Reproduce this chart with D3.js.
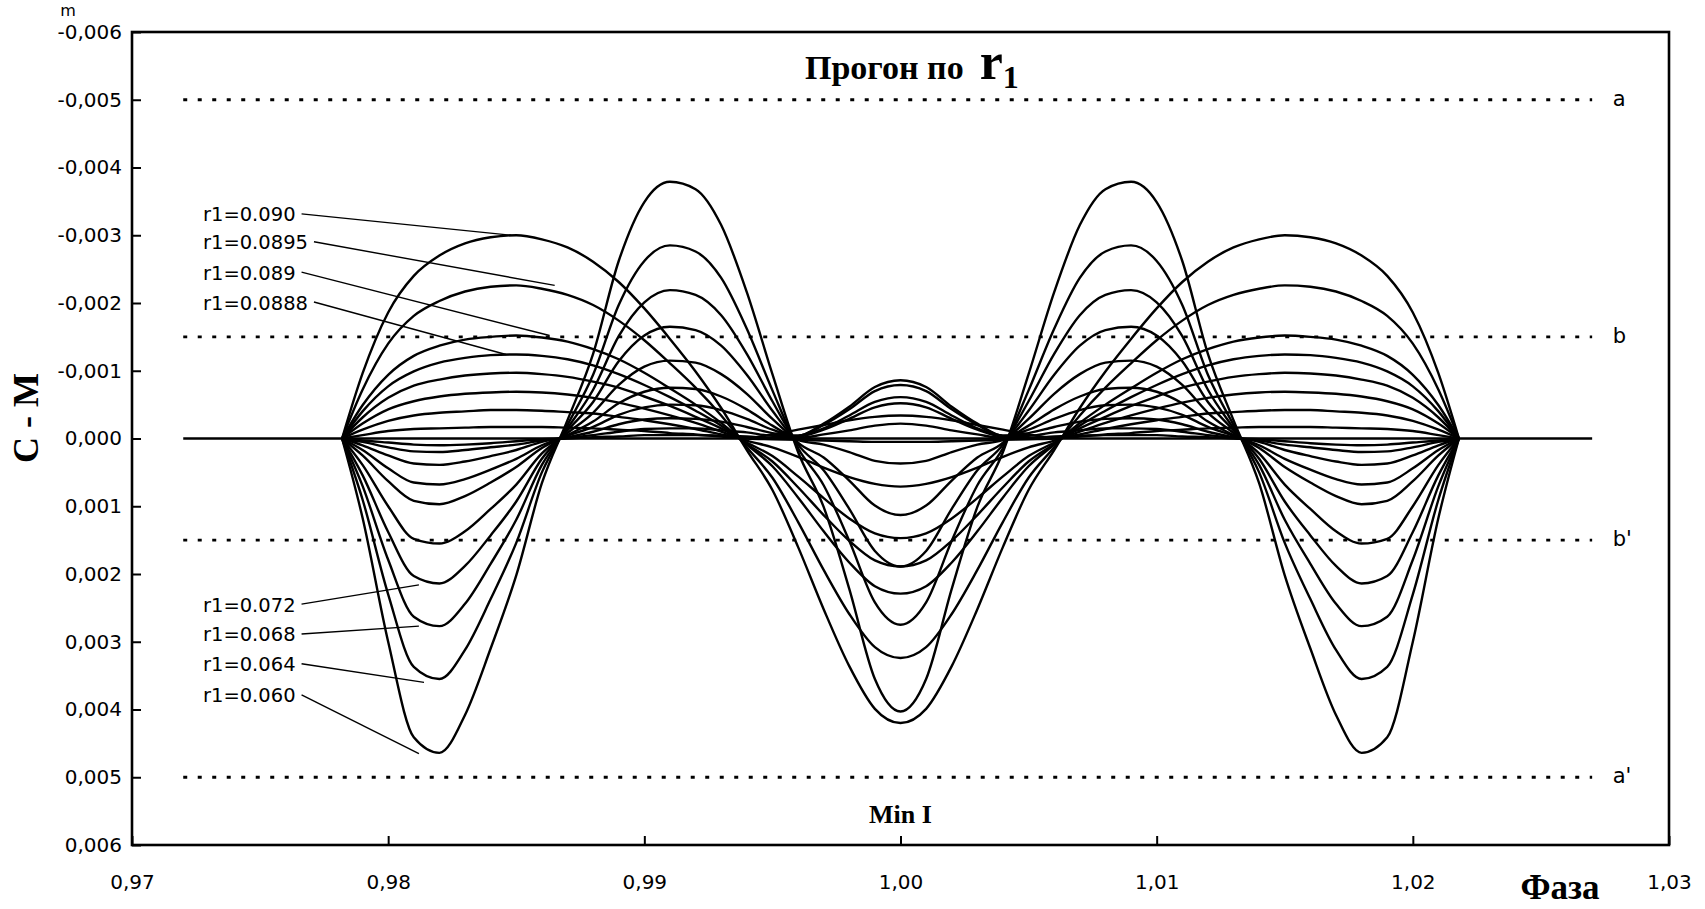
<!DOCTYPE html>
<html>
<head>
<meta charset="utf-8">
<script src="https://cdn.jsdelivr.net/npm/d3@7"></script>
<style>
  body { margin: 0; background: #fff; }
  text { fill: #000; }
</style>
</head>
<body>
<script>
var svgWidth = 1705;
var svgHeight = 909;

var margin = {
  top: 32,
  right: 36,
  bottom: 64,
  left: 132
};

var width = svgWidth - margin.left - margin.right;
var height = svgHeight - margin.top - margin.bottom;

// phase grid of the left half of the minimum (curves are symmetric about 1.000)
var phaseHalf = [0.9782, 0.979, 0.980, 0.981, 0.982, 0.983, 0.984, 0.985, 0.986, 0.987, 0.988, 0.989,
                 0.990, 0.991, 0.992, 0.993, 0.994, 0.995, 0.996, 0.997, 0.998, 0.999, 1.000];

// C - M values, in units of 0.001 m
var r1_0900 = [0, -0.96, -1.86, -2.40, -2.70, -2.88, -2.97, -3.00, -2.94, -2.82, -2.61, -2.31, -1.92, -1.47, -0.99, -0.45, 0.17, 0.76, 1.60, 2.52, 3.36, 3.99, 4.20];
var r1_0895 = [0, -0.72, -1.40, -1.81, -2.03, -2.17, -2.24, -2.26, -2.21, -2.12, -1.97, -1.74, -1.45, -1.11, -0.75, -0.34, 0.13, 0.58, 1.23, 1.94, 2.59, 3.08, 3.24];
var r1_0890 = [0, -0.49, -0.94, -1.22, -1.37, -1.46, -1.50, -1.52, -1.49, -1.43, -1.32, -1.17, -0.97, -0.74, -0.50, -0.23, 0.09, 0.41, 0.87, 1.37, 1.83, 2.18, 2.29];
var r1_0888 = [0, -0.40, -0.77, -0.99, -1.12, -1.19, -1.23, -1.24, -1.22, -1.17, -1.08, -0.95, -0.79, -0.61, -0.41, -0.19, 0.08, 0.34, 0.72, 1.13, 1.51, 1.80, 1.89];
var r1_0886 = [0, -0.31, -0.60, -0.78, -0.87, -0.93, -0.96, -0.97, -0.95, -0.91, -0.84, -0.75, -0.62, -0.48, -0.32, -0.15, 0.06, 0.26, 0.56, 0.88, 1.18, 1.40, 1.47];
var r1_0884 = [0, -0.22, -0.43, -0.55, -0.62, -0.66, -0.68, -0.69, -0.68, -0.65, -0.60, -0.53, -0.44, -0.34, -0.23, -0.10, 0.03, 0.13, 0.27, 0.43, 0.57, 0.67, 0.71];
var r1_0882 = [0, -0.13, -0.26, -0.34, -0.38, -0.40, -0.42, -0.42, -0.41, -0.39, -0.37, -0.32, -0.27, -0.21, -0.14, -0.06, 0.00, 0.01, 0.02, 0.03, 0.04, 0.05, 0.05];
var r1_0880 = [0, -0.05, -0.11, -0.14, -0.15, -0.16, -0.17, -0.17, -0.17, -0.16, -0.15, -0.13, -0.11, -0.08, -0.06, -0.03, -0.01, -0.06, -0.13, -0.20, -0.27, -0.32, -0.34];
var r1_0870 = [0, 0.03, 0.06, 0.09, 0.10, 0.09, 0.07, 0.04, 0.01, 0.00, -0.02, -0.03, -0.05, -0.05, -0.05, -0.04, -0.03, -0.01, -0.03, -0.15, -0.34, -0.54, -0.61];
var r1_0860 = [0, 0.05, 0.13, 0.19, 0.20, 0.17, 0.13, 0.09, 0.03, -0.01, -0.05, -0.10, -0.14, -0.15, -0.15, -0.12, -0.09, -0.04, -0.04, -0.22, -0.47, -0.76, -0.86];
var r1_0840 = [0, 0.10, 0.25, 0.37, 0.39, 0.34, 0.26, 0.17, 0.05, -0.02, -0.10, -0.21, -0.28, -0.30, -0.29, -0.25, -0.17, -0.08, -0.04, -0.20, -0.43, -0.70, -0.79];
var r1_0820 = [0, 0.17, 0.44, 0.65, 0.68, 0.60, 0.46, 0.30, 0.10, -0.04, -0.17, -0.35, -0.46, -0.50, -0.49, -0.42, -0.29, -0.13, -0.03, -0.13, -0.29, -0.46, -0.52];
var r1_0800 = [0, 0.25, 0.63, 0.92, 0.97, 0.85, 0.65, 0.42, 0.14, -0.05, -0.25, -0.52, -0.69, -0.75, -0.73, -0.62, -0.43, -0.19, -0.01, -0.06, -0.12, -0.19, -0.22];
var r1_0760 = [0, 0.39, 1.00, 1.48, 1.55, 1.37, 1.04, 0.68, 0.22, -0.08, -0.38, -0.79, -1.06, -1.15, -1.12, -0.95, -0.66, -0.29, 0.02, 0.09, 0.20, 0.33, 0.37];
var r1_0720 = [0, 0.54, 1.38, 2.03, 2.14, 1.88, 1.43, 0.93, 0.30, -0.12, -0.54, -1.14, -1.52, -1.65, -1.60, -1.37, -0.94, -0.41, 0.06, 0.28, 0.62, 0.99, 1.13];
var r1_0680 = [0, 0.70, 1.79, 2.63, 2.77, 2.44, 1.85, 1.20, 0.39, -0.15, -0.72, -1.51, -2.01, -2.19, -2.12, -1.82, -1.25, -0.55, 0.09, 0.47, 1.04, 1.66, 1.89];
var r1_0640 = [0, 0.90, 2.30, 3.37, 3.55, 3.12, 2.37, 1.54, 0.50, -0.20, -0.94, -1.97, -2.62, -2.85, -2.76, -2.37, -1.62, -0.71, 0.14, 0.69, 1.51, 2.42, 2.75];
var r1_0600 = [0, 1.17, 3.00, 4.41, 4.64, 4.08, 3.10, 2.02, 0.66, -0.27, -1.25, -2.62, -3.49, -3.79, -3.68, -3.15, -2.16, -0.95, 0.20, 1.01, 2.22, 3.55, 4.03];

var curveList = [r1_0900, r1_0895, r1_0890, r1_0888, r1_0886, r1_0884, r1_0882, r1_0880, r1_0870,
                 r1_0860, r1_0840, r1_0820, r1_0800, r1_0760, r1_0720, r1_0680, r1_0640, r1_0600];

// reference level (zero residual) drawn over the whole run of phases
var baselinePhase = [0.972, 1.027];
var baselineValue = [0, 0];

// limit lines
var levelValue = [-5, -1.5, 1.5, 5];
var levelName = ["a", "b", "b'", "a'"];

// labelled curves: text, level of the text, tip of the leader on the curve
var upperLabel = ["r1=0.090", "r1=0.0895", "r1=0.089", "r1=0.0888"];
var upperTextY = [-3.30, -2.89, -2.44, -2.00];
var upperTip = [[0.9848, -3.00], [0.9865, -2.26], [0.9863, -1.52], [0.9846, -1.24]];
var lowerLabel = ["r1=0.072", "r1=0.068", "r1=0.064", "r1=0.060"];
var lowerTextY = [2.46, 2.90, 3.34, 3.80];
var lowerTip = [[0.9812, 2.16], [0.9812, 2.77], [0.9814, 3.60], [0.9812, 4.65]];

var xTicks = [0.97, 0.98, 0.99, 1.00, 1.01, 1.02, 1.03];
var yTicks = [-6, -5, -4, -3, -2, -1, 0, 1, 2, 3, 4, 5, 6];

var svg = d3.select("body")
            .append("svg")
            .attr("width", svgWidth)
            .attr("height", svgHeight);

var chartGroup = svg.append("g")
                    .attr("transform", `translate(${margin.left}, ${margin.top})`);

var xScale = d3.scaleLinear().domain([0.97, 1.03]).range([0, width]);
var yScale = d3.scaleLinear().domain([-6, 6]).range([0, height]);   // 0.001 m units, negative up

var sansFont = "'DejaVu Sans', Verdana, sans-serif";
var serifFont = "'Liberation Serif', 'Times New Roman', serif";

// frame
chartGroup.append("rect")
          .attr("x", 0).attr("y", 0)
          .attr("width", width).attr("height", height)
          .attr("fill", "none")
          .attr("stroke", "#000")
          .attr("stroke-width", 2.6);

// axes with inward ticks
var bottomAxis = d3.axisBottom(xScale)
                   .tickValues(xTicks)
                   .tickSize(-9)
                   .tickPadding(30)
                   .tickFormat(d => d3.format(".2f")(d).replace(".", ","));
var leftAxis = d3.axisLeft(yScale)
                 .tickValues(yTicks)
                 .tickSize(-9)
                 .tickPadding(10)
                 .tickFormat(d => d3.format(".3f")(d / 1000).replace(".", ",").replace("−", "-"));

var xAxis = chartGroup.append("g")
                      .attr("transform", `translate(0, ${height})`)
                      .call(bottomAxis);
var yAxis = chartGroup.append("g")
                      .call(leftAxis);

[xAxis, yAxis].forEach(function(ax) {
  ax.select(".domain").remove();
  ax.selectAll("line").attr("stroke", "#000").attr("stroke-width", 2);
  ax.selectAll("text")
    .style("font-family", sansFont)
    .style("font-size", "20px")
    .attr("fill", "#000");
});

// dotted limit lines
chartGroup.selectAll(".level")
          .data(levelValue)
          .enter()
          .append("line")
          .attr("class", "level")
          .attr("x1", xScale(0.972))
          .attr("x2", xScale(1.027))
          .attr("y1", d => yScale(d))
          .attr("y2", d => yScale(d))
          .attr("stroke", "#000")
          .attr("stroke-width", 2.8)
          .attr("stroke-dasharray", "4,10.5");

chartGroup.selectAll(".levelName")
          .data(levelValue)
          .enter()
          .append("text")
          .attr("x", xScale(1.0278))
          .attr("y", d => yScale(d) - 1)
          .attr("dominant-baseline", "central")
          .style("font-family", sansFont)
          .style("font-size", "21px")
          .text((d, i) => levelName[i]);

// curves, mirrored about phase 1.000
var line = d3.line()
             .x(d => xScale(d[0]))
             .y(d => yScale(d[1]))
             .curve(d3.curveMonotoneX);

function fullCurve(values) {
  var pts = phaseHalf.map((p, i) => [p, values[i]]);
  for (var i = phaseHalf.length - 2; i >= 0; i--) {
    pts.push([2 - phaseHalf[i], values[i]]);
  }
  return pts;
}

chartGroup.append("path")
          .datum(baselinePhase.map((p, i) => [p, baselineValue[i]]))
          .attr("d", line)
          .attr("fill", "none")
          .attr("stroke", "#000")
          .attr("stroke-width", 2.4);

chartGroup.selectAll(".curve")
          .data(curveList)
          .enter()
          .append("path")
          .attr("class", "curve")
          .attr("d", d => line(fullCurve(d)))
          .attr("fill", "none")
          .attr("stroke", "#000")
          .attr("stroke-width", 2.4)
          .attr("stroke-linejoin", "round");

// curve labels with leaders
function addLabels(texts, textY, tips) {
  texts.forEach(function(t, i) {
    var label = chartGroup.append("text")
                          .attr("x", xScale(0.97277))
                          .attr("y", yScale(textY[i]))
                          .attr("dominant-baseline", "central")
                          .style("font-family", sansFont)
                          .style("font-size", "19.5px")
                          .text(t);
    var endX = xScale(0.97277) + label.node().getComputedTextLength() + 6;
    chartGroup.append("line")
              .attr("x1", endX)
              .attr("y1", yScale(textY[i]) - 1)
              .attr("x2", xScale(tips[i][0]))
              .attr("y2", yScale(tips[i][1]))
              .attr("stroke", "#000")
              .attr("stroke-width", 1.4);
  });
}
addLabels(upperLabel, upperTextY, upperTip);
addLabels(lowerLabel, lowerTextY, lowerTip);

// title
var title = svg.append("text")
               .attr("x", 805)
               .attr("y", 79)
               .style("font-family", serifFont)
               .style("font-weight", "bold");
title.append("tspan").style("font-size", "34px").text("Прогон по");
title.append("tspan").style("font-size", "52px").attr("dx", 16).text("r");
title.append("tspan").style("font-size", "32px").attr("dy", 9).text("1");

// "Min I"
chartGroup.append("text")
          .attr("x", xScale(1.0))
          .attr("y", yScale(5.55))
          .attr("text-anchor", "middle")
          .attr("dominant-baseline", "central")
          .style("font-family", serifFont)
          .style("font-weight", "bold")
          .style("font-size", "26px")
          .text("Min I");

// axis titles
svg.append("text")
   .attr("transform", "translate(38, 418) rotate(-90)")
   .attr("text-anchor", "middle")
   .style("font-family", serifFont)
   .style("font-weight", "bold")
   .style("font-size", "36px")
   .text("C - M");

svg.append("text")
   .attr("x", 1560)
   .attr("y", 899)
   .attr("text-anchor", "middle")
   .style("font-family", serifFont)
   .style("font-weight", "bold")
   .style("font-size", "35px")
   .text("Фаза");

svg.append("text")
   .attr("x", 68)
   .attr("y", 16)
   .attr("text-anchor", "middle")
   .style("font-family", sansFont)
   .style("font-size", "16px")
   .text("m");
</script>
</body>
</html>
